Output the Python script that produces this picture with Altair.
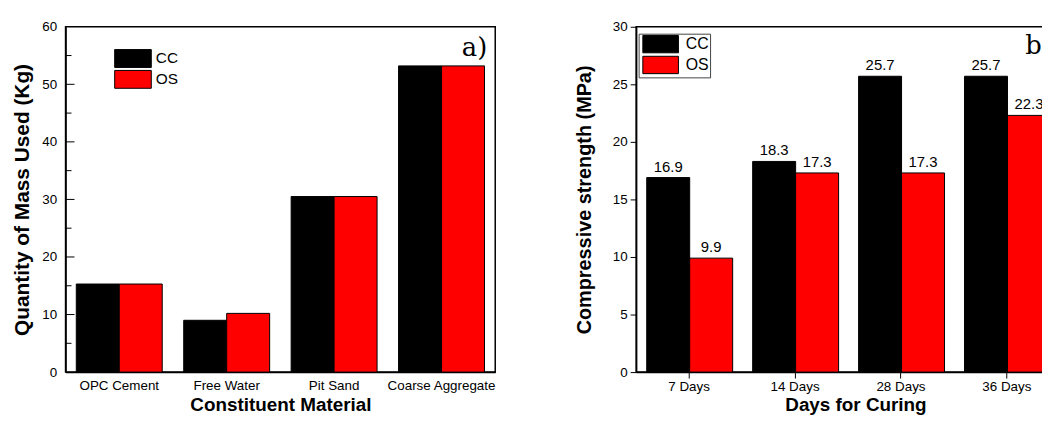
import altair as alt
import pandas as pd

# ---- data ----
materials = ["OPC Cement", "Free Water", "Pit Sand", "Coarse Aggregate"]
mass_cc = [15.3, 9.0, 30.5, 53.2]
mass_os = [15.3, 10.2, 30.5, 53.2]

days = ["7 Days", "14 Days", "28 Days", "36 Days"]
strength_cc = [16.9, 18.3, 25.7, 25.7]
strength_os = [9.9, 17.3, 17.3, 22.3]

series = ["CC", "OS"]
colors = ["#000000", "#FF0000"]

major_ticks_a = [10, 20, 30, 40, 50]
minor_ticks_a = [5, 15, 25, 35, 45, 55]

df_a = pd.DataFrame(
    [{"material": m, "series": "CC", "value": v} for m, v in zip(materials, mass_cc)]
    + [{"material": m, "series": "OS", "value": v} for m, v in zip(materials, mass_os)]
)
df_b = pd.DataFrame(
    [{"day": d, "series": "CC", "value": v} for d, v in zip(days, strength_cc)]
    + [{"day": d, "series": "OS", "value": v} for d, v in zip(days, strength_os)]
)

FONT = "Liberation Sans"
SERIF = "DejaVu Serif"
# wide swatch: spans 4.1 x 2 units of the symbol's half-size
rect_path = "M-1,-1H3.1V1H-1Z"

# ---- panel a ----
ya = alt.Scale(domain=[0, 60], nice=False)
bars_a = alt.Chart(df_a).mark_bar(stroke="#000000", strokeWidth=1, opacity=1).encode(
    x=alt.X("material:N", sort=materials,
            scale=alt.Scale(paddingInner=0.2, paddingOuter=0.1),
            axis=alt.Axis(title="Constituent Material", ticks=False, labelAngle=0,
                          labelPadding=7, titleY=39, titleBaseline="alphabetic",
                          titleFontSize=19)),
    xOffset=alt.XOffset("series:N", sort=series),
    y=alt.Y("value:Q", scale=ya,
            axis=alt.Axis(title="Quantity of Mass Used (Kg)", values=list(range(0, 61, 10)),
                          ticks=False, tickSize=0, labelPadding=9, titlePadding=9,
                          titleFontSize=21)),
    color=alt.Color("series:N", sort=series, scale=alt.Scale(domain=series, range=colors),
                    legend=alt.Legend(title=None, orient="none", legendX=49, legendY=22.5,
                                      symbolType=rect_path, symbolSize=324,
                                      symbolStrokeColor="#000000", symbolStrokeWidth=1,
                                      symbolOpacity=1, labelFontSize=15.5, labelFont=FONT,
                                      labelColor="#000000", rowPadding=-3, padding=0,
                                      labelOffset=23)),
)
# inward ticks of panel a (major and minor)
ticks_major_a = alt.Chart(pd.DataFrame({"v": major_ticks_a})).mark_rule(
    color="#000000", strokeWidth=1).encode(y=alt.Y("v:Q", scale=ya), x=alt.value(0), x2=alt.value(9))
ticks_minor_a = alt.Chart(pd.DataFrame({"v": minor_ticks_a})).mark_rule(
    color="#000000", strokeWidth=1).encode(y=alt.Y("v:Q", scale=ya), x=alt.value(0), x2=alt.value(6))
tag_a = alt.Chart(pd.DataFrame({"t": ["a)"]})).mark_text(
    font=SERIF, fontSize=26, align="right", baseline="alphabetic", color="#000000"
).encode(text="t:N", x=alt.value(425), y=alt.value(29.5))

panel_a = alt.layer(bars_a, ticks_major_a, ticks_minor_a, tag_a).properties(width=433, height=348)

# ---- panel b ----
base_b = alt.Chart(df_b).encode(
    x=alt.X("day:N", sort=days,
            scale=alt.Scale(paddingInner=0.2, paddingOuter=0.1),
            axis=alt.Axis(title="Days for Curing", labelAngle=0, tickSize=6,
                          labelPadding=2, titleX=221, titleY=39, titleBaseline="alphabetic",
                          titleFontSize=19)),
    xOffset=alt.XOffset("series:N", sort=series),
    y=alt.Y("value:Q", scale=alt.Scale(domain=[0, 30], nice=False),
            axis=alt.Axis(title="Compressive strength (MPa)", values=list(range(0, 31, 5)),
                          tickSize=6, labelPadding=3, titlePadding=17.5)),
)
bars_b = base_b.mark_bar(stroke="#000000", strokeWidth=1, opacity=1).encode(
    color=alt.Color("series:N", sort=series, scale=alt.Scale(domain=series, range=colors),
                    legend=alt.Legend(title=None, orient="none", legendX=2.5, legendY=7,
                                      symbolType=rect_path, symbolSize=306,
                                      symbolStrokeColor="#000000", symbolStrokeWidth=1,
                                      symbolOpacity=1, labelFontSize=16, labelFont=FONT,
                                      labelColor="#000000", rowPadding=-2.5, padding=1,
                                      symbolOffset=2.5, strokeColor="#444444",
                                      labelOffset=25)),
)
labels_b = base_b.mark_text(fontSize=15, font=FONT, baseline="alphabetic", dy=-6,
                            color="#000000").encode(text=alt.Text("value:Q", format=".1f"))
tag_b = alt.Chart(pd.DataFrame({"t": ["b)"]})).mark_text(
    font=SERIF, fontSize=26, align="left", baseline="alphabetic", color="#000000"
).encode(text="t:N", x=alt.value(392), y=alt.value(27))

panel_b = alt.layer(bars_b, labels_b, tag_b).properties(width=427, height=348)

PL, PT = 58, 16
SVG_W, SVG_H = 1042, 403

chart = (
    alt.hconcat(panel_a, panel_b, spacing=78)
    .resolve_scale(color="independent", x="independent", y="independent")
    .resolve_legend(color="independent")
    .properties(
        autosize=alt.AutoSizeParams(type="none"),
        padding={"left": PL, "top": PT, "right": SVG_W - PL, "bottom": SVG_H - PT},
    )
    .configure(font=FONT)
    .configure_view(stroke="#000000", strokeWidth=1.5)
    .configure_axis(grid=False, domainColor="#000000", domainWidth=1.5, tickColor="#000000",
                    tickWidth=1, labelColor="#000000", labelFont=FONT, labelFontSize=13.5,
                    titleColor="#000000", titleFont=FONT, titleFontSize=20,
                    titleFontWeight="bold")
)

chart.save("out.html", embed_options={"renderer": "svg", "actions": False})
